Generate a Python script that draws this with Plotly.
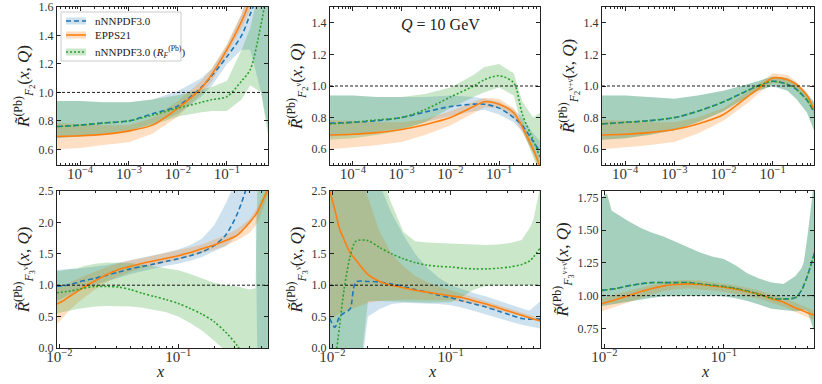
import plotly.graph_objects as go

# ---------------- data ----------------
X_TOP = [3.4e-5, 1e-4, 3e-4, 1e-3, 3e-3, 1e-2, 3e-2, 5e-2, 0.1, 0.2, 0.3, 0.5, 0.69]
X_BOT = [0.0095, 0.0105, 0.0115, 0.0126, 0.0141, 0.0158, 0.020, 0.0251, 0.0316, 0.0398,
         0.0501, 0.0631, 0.0794, 0.100, 0.126, 0.158, 0.200, 0.251, 0.316, 0.398,
         0.447, 0.468, 0.501, 0.575]

# Panel 1: F2
P1_NN = [0.76, 0.77, 0.785, 0.80, 0.85, 0.905, 1.035, 1.12, 1.25, 1.40, 1.55, 1.75, 1.9]
P1_NN_HI = [0.94, 0.94, 0.93, 0.93, 0.95, 1.01, 1.10, 1.17, 1.33, 1.55, 1.75, 2.0, 2.0]
P1_NN_LO = [0.68, 0.69, 0.71, 0.73, 0.78, 0.85, 0.97, 1.05, 1.20, 1.30, 1.30, 1.00, 0.75]
P1_EP = [0.69, 0.695, 0.705, 0.73, 0.77, 0.89, 1.03, 1.13, 1.30, 1.50, 1.65, 1.90, 2.0]
P1_EP_HI = [0.785, 0.78, 0.77, 0.77, 0.82, 0.94, 1.08, 1.17, 1.34, 1.55, 1.75, 2.0, 2.0]
P1_EP_LO = [0.60, 0.61, 0.63, 0.65, 0.71, 0.83, 0.99, 1.08, 1.26, 1.45, 1.58, 1.80, 1.9]
P1_RF = [0.76, 0.77, 0.785, 0.80, 0.84, 0.89, 0.93, 0.95, 0.97, 1.08, 1.16, 1.48, 1.75]
P1_RF_HI = [0.94, 0.94, 0.93, 0.93, 0.95, 0.98, 1.02, 1.04, 1.08, 1.30, 1.45, 1.80, 2.0]
P1_RF_LO = [0.68, 0.69, 0.70, 0.72, 0.77, 0.83, 0.86, 0.87, 0.87, 0.95, 1.05, 1.00, 0.70]

# Panel 2: F2 nu
P2_NN = [0.765, 0.77, 0.78, 0.80, 0.835, 0.87, 0.885, 0.885, 0.86, 0.80, 0.75, 0.65, 0.585]
P2_NN_HI = [0.94, 0.94, 0.93, 0.93, 0.93, 0.94, 0.93, 0.92, 0.90, 0.85, 0.80, 0.70, 0.65]
P2_NN_LO = [0.68, 0.69, 0.71, 0.73, 0.77, 0.81, 0.84, 0.85, 0.82, 0.77, 0.71, 0.58, 0.52]
P2_EP = [0.69, 0.695, 0.705, 0.725, 0.755, 0.80, 0.87, 0.90, 0.885, 0.83, 0.74, 0.60, 0.49]
P2_EP_HI = [0.785, 0.78, 0.77, 0.77, 0.79, 0.84, 0.90, 0.925, 0.92, 0.86, 0.77, 0.63, 0.52]
P2_EP_LO = [0.60, 0.61, 0.625, 0.645, 0.69, 0.75, 0.83, 0.865, 0.86, 0.80, 0.71, 0.57, 0.46]
P2_RF = [0.76, 0.77, 0.785, 0.80, 0.85, 0.93, 1.00, 1.04, 1.065, 1.02, 0.82, 0.66, 0.55]
P2_RF_HI = [0.94, 0.94, 0.93, 0.93, 0.95, 0.99, 1.07, 1.12, 1.14, 1.08, 0.90, 0.80, 0.83]
P2_RF_LO = [0.66, 0.67, 0.69, 0.72, 0.77, 0.86, 0.93, 0.96, 0.99, 0.94, 0.73, 0.55, 0.45]

# Panel 3: F2 nu+nubar
P3_NN = [0.76, 0.77, 0.78, 0.80, 0.84, 0.90, 0.97, 1.00, 1.03, 1.01, 0.98, 0.91, 0.835]
P3_NN_HI = [0.94, 0.94, 0.93, 0.92, 0.94, 0.97, 1.01, 1.03, 1.06, 1.05, 1.02, 0.95, 0.90]
P3_NN_LO = [0.66, 0.67, 0.69, 0.72, 0.77, 0.84, 0.93, 0.97, 1.00, 0.97, 0.92, 0.83, 0.72]
P3_EP = [0.69, 0.695, 0.705, 0.725, 0.76, 0.82, 0.93, 0.98, 1.05, 1.04, 1.01, 0.94, 0.85]
P3_EP_HI = [0.785, 0.78, 0.77, 0.77, 0.80, 0.86, 0.96, 1.01, 1.08, 1.07, 1.03, 0.96, 0.87]
P3_EP_LO = [0.60, 0.61, 0.625, 0.645, 0.70, 0.78, 0.89, 0.95, 1.02, 1.01, 0.98, 0.91, 0.83]
P3_RF = P3_NN
P3_RF_HI = P3_NN_HI
P3_RF_LO = P3_NN_LO

# Panel 4: F3 nu
P4_NN = [0.98, 0.99, 1.00, 1.02, 1.04, 1.07, 1.11, 1.16, 1.21, 1.26, 1.30, 1.34, 1.38, 1.42,
         1.47, 1.53, 1.63, 1.80, 2.15, 2.70, 3.0, 3.1, 3.3, 3.6]
P4_NN_HI = [1.24, 1.25, 1.25, 1.26, 1.26, 1.27, 1.29, 1.32, 1.36, 1.40, 1.44, 1.47, 1.52, 1.57,
            1.64, 1.74, 1.95, 2.30, 2.70, 3.2, 3.4, 3.5, 3.6, 3.8]
P4_NN_LO = [0.75, 0.79, 0.83, 0.87, 0.91, 0.95, 1.01, 1.07, 1.12, 1.18, 1.23, 1.27, 1.31, 1.34,
            1.39, 1.45, 1.54, 1.62, 1.80, 2.00, 2.15, -1.0, -1.0, -1.0]
P4_EP = [0.70, 0.74, 0.79, 0.84, 0.90, 0.96, 1.07, 1.17, 1.25, 1.30, 1.35, 1.39, 1.43, 1.47,
         1.52, 1.58, 1.64, 1.71, 1.80, 2.00, 2.12, 2.18, 2.30, 2.55]
P4_EP_HI = [0.95, 0.98, 1.02, 1.06, 1.10, 1.14, 1.22, 1.29, 1.35, 1.39, 1.43, 1.47, 1.51, 1.55,
            1.60, 1.65, 1.72, 1.80, 1.90, 2.05, 2.20, 2.25, 2.38, 2.62]
P4_EP_LO = [0.38, 0.46, 0.55, 0.63, 0.71, 0.79, 0.93, 1.05, 1.14, 1.21, 1.27, 1.32, 1.36, 1.40,
            1.45, 1.51, 1.57, 1.63, 1.72, 1.83, 1.95, 2.00, 2.15, 2.45]
P4_RF = [0.88, 0.89, 0.90, 0.91, 0.93, 0.95, 0.98, 0.98, 0.97, 0.93, 0.87, 0.82, 0.77, 0.71,
         0.63, 0.54, 0.42, 0.25, 0.03, -0.3, -0.45, -0.5, -0.6, -0.8]
P4_RF_HI = [1.22, 1.23, 1.24, 1.25, 1.27, 1.30, 1.34, 1.36, 1.36, 1.35, 1.33, 1.30, 1.27, 1.24,
            1.18, 1.11, 1.04, 1.00, 0.98, 0.93, 0.95, 3.0, 3.0, 3.0]
P4_RF_LO = [0.55, 0.57, 0.59, 0.60, 0.62, 0.64, 0.66, 0.67, 0.67, 0.66, 0.64, 0.61, 0.57, 0.50,
            0.40, 0.28, 0.12, -0.05, -0.3, -0.6, -0.8, -1.0, -1.0, -1.0]

# Panel 5: F3 nubar
P5_NN = [0.47, 0.33, 0.50, 0.56, 0.62, 1.05, 1.06, 1.05, 1.02, 0.98, 0.93, 0.89, 0.84, 0.80,
         0.75, 0.70, 0.65, 0.59, 0.53, 0.47, 0.46, 0.46, 0.46, 0.46]
P5_NN_HI = [3.0, 3.0, 3.0, 3.0, 3.0, 3.0, 3.0, 2.6, 2.15, 1.80, 1.50, 1.28, 1.12, 1.00,
            0.93, 0.87, 0.82, 0.76, 0.70, 0.63, 0.60, 0.60, 0.65, 0.75]
P5_NN_LO = [-1.0, -1.0, -1.0, -1.0, -1.0, -1.0, 0.50, 0.62, 0.70, 0.72, 0.72, 0.71, 0.70, 0.68,
            0.64, 0.59, 0.54, 0.48, 0.42, 0.37, 0.35, 0.34, 0.33, 0.31]
P5_EP = [2.50, 2.20, 1.90, 1.72, 1.52, 1.40, 1.17, 1.06, 1.00, 0.96, 0.92, 0.89, 0.86, 0.83,
         0.80, 0.75, 0.70, 0.64, 0.58, 0.52, 0.49, 0.48, 0.46, 0.43]
P5_EP_HI = [3.0, 3.0, 3.0, 3.0, 3.0, 3.0, 2.40, 1.85, 1.50, 1.30, 1.15, 1.05, 0.98, 0.92,
            0.86, 0.80, 0.74, 0.68, 0.62, 0.56, 0.53, 0.52, 0.50, 0.47]
P5_EP_LO = [0.45, 0.50, 0.55, 0.58, 0.62, 0.65, 0.72, 0.75, 0.76, 0.77, 0.77, 0.77, 0.76, 0.76,
            0.73, 0.70, 0.66, 0.61, 0.55, 0.50, 0.48, 0.47, 0.45, 0.42]
P5_RF = [-0.5, -0.2, 0.35, 0.95, 1.45, 1.70, 1.71, 1.60, 1.50, 1.42, 1.36, 1.32, 1.30, 1.29,
         1.27, 1.26, 1.26, 1.27, 1.29, 1.33, 1.37, 1.39, 1.45, 1.60]
P5_RF_HI = [3.0, 3.0, 3.0, 3.0, 3.0, 3.0, 3.0, 2.8, 2.3, 1.85, 1.70, 1.68, 1.67, 1.66,
            1.65, 1.64, 1.64, 1.65, 1.67, 1.72, 1.85, 1.92, 2.05, 2.60]
P5_RF_LO = [-1.0, -1.0, -1.0, -1.0, -1.0, -1.0, 0.75, 0.75, 0.75, 0.74, 0.73, 0.72, 0.72, 0.73,
            0.82, 0.93, 0.99, 1.00, 1.00, 1.00, 1.00, 1.00, 1.00, 1.00]

# Panel 6: F3 nu+nubar
P6_NN = [1.04, 1.045, 1.05, 1.055, 1.065, 1.075, 1.09, 1.10, 1.10, 1.10, 1.10, 1.09, 1.08, 1.07,
         1.055, 1.035, 1.01, 0.98, 0.975, 0.985, 1.04, 1.08, 1.15, 1.33]
P6_NN_HI = [1.75, 1.78, 1.65, 1.63, 1.60, 1.57, 1.52, 1.48, 1.45, 1.41, 1.37, 1.33, 1.30, 1.28,
            1.23, 1.17, 1.13, 1.10, 1.09, 1.15, 1.21, 1.26, 1.45, 1.90]
P6_NN_LO = [0.92, 0.925, 0.93, 0.935, 0.945, 0.955, 0.97, 0.985, 0.995, 1.00, 1.00, 1.00, 1.00, 0.995,
            0.98, 0.96, 0.93, 0.90, 0.89, 0.88, 0.885, 0.89, 0.88, 0.72]
P6_EP = [0.94, 0.95, 0.96, 0.97, 0.985, 1.00, 1.03, 1.055, 1.075, 1.085, 1.09, 1.085, 1.075, 1.065,
         1.05, 1.03, 1.01, 0.975, 0.95, 0.905, 0.89, 0.88, 0.87, 0.85]
P6_EP_HI = [0.98, 0.99, 1.00, 1.01, 1.02, 1.035, 1.06, 1.085, 1.105, 1.115, 1.12, 1.115, 1.105, 1.095,
            1.08, 1.06, 1.04, 1.01, 0.985, 0.945, 0.925, 0.915, 0.905, 0.885]
P6_EP_LO = [0.88, 0.895, 0.91, 0.92, 0.935, 0.95, 0.98, 1.01, 1.035, 1.05, 1.055, 1.05, 1.04, 1.03,
            1.015, 0.995, 0.975, 0.945, 0.915, 0.875, 0.855, 0.845, 0.835, 0.815]
P6_RF = P6_NN
P6_RF_HI = P6_NN_HI
P6_RF_LO = P6_NN_LO

LEGEND_NAMES = ["nNNPDF3.0", "EPPS21", "nNNPDF3.0 (<i>R</i><sub><i>F</i></sub><sup>(Pb)</sup>)"]

R = "<i>R\u0303</i><sup>(Pb)</sup>"
Y_TITLES = [
    R + "<sub><i>F</i><sub>2</sub></sub>(<i>x</i>, <i>Q</i>)",
    R + "<sub><i>F</i><sub>2</sub><sup>ν</sup></sub>(<i>x</i>, <i>Q</i>)",
    R + "<sub><i>F</i><sub>2</sub><sup>ν+ν\u0304</sup></sub>(<i>x</i>, <i>Q</i>)",
    R + "<sub><i>F</i><sub>3</sub><sup>ν</sup></sub>(<i>x</i>, <i>Q</i>)",
    R + "<sub><i>F</i><sub>3</sub><sup>ν\u0304</sup></sub>(<i>x</i>, <i>Q</i>)",
    R + "<sub><i>F</i><sub>3</sub><sup>ν+ν\u0304</sup></sub>(<i>x</i>, <i>Q</i>)",
]
Y_RANGES = [(0.49, 1.6), (0.5, 1.5), (0.5, 1.5), (0.0, 2.5), (0.0, 2.5), (0.6, 1.8)]
Y_DTICK = [0.2, 0.2, 0.2, 0.5, 0.5, 0.25]
Y_FMT = [".1f", ".1f", ".1f", ".1f", ".1f", ".2f"]
X_RANGES_LOG = [(-4.47, -0.16)] * 3 + [(-2.02, -0.245)] * 3

PANELS = [
    (X_TOP, P1_NN, P1_NN_LO, P1_NN_HI, P1_EP, P1_EP_LO, P1_EP_HI, P1_RF, P1_RF_LO, P1_RF_HI),
    (X_TOP, P2_NN, P2_NN_LO, P2_NN_HI, P2_EP, P2_EP_LO, P2_EP_HI, P2_RF, P2_RF_LO, P2_RF_HI),
    (X_TOP, P3_NN, P3_NN_LO, P3_NN_HI, P3_EP, P3_EP_LO, P3_EP_HI, P3_RF, P3_RF_LO, P3_RF_HI),
    (X_BOT, P4_NN, P4_NN_LO, P4_NN_HI, P4_EP, P4_EP_LO, P4_EP_HI, P4_RF, P4_RF_LO, P4_RF_HI),
    (X_BOT, P5_NN, P5_NN_LO, P5_NN_HI, P5_EP, P5_EP_LO, P5_EP_HI, P5_RF, P5_RF_LO, P5_RF_HI),
    (X_BOT, P6_NN, P6_NN_LO, P6_NN_HI, P6_EP, P6_EP_LO, P6_EP_HI, P6_RF, P6_RF_LO, P6_RF_HI),
]

# ---------------- styles ----------------
W, H = 822, 384
FONT = "Liberation Serif"
BLUE, ORANGE, GREEN = "#1f77b4", "#ff7f0e", "#2ca02c"
BLUE_F, ORANGE_F, GREEN_F = "rgba(31,119,180,0.22)", "rgba(255,127,14,0.25)", "rgba(44,160,44,0.25)"

X_PX = [(57, 268), (330, 540), (602, 814)]
Y_PX = [(7, 165), (191, 348)]


def px(x):
    return x / W


def py(y):
    return 1 - y / H


fig = go.Figure()


def band(ax, x, lo, hi, color):
    fig.add_trace(go.Scatter(
        x=list(x) + list(x)[::-1], y=list(hi) + list(lo)[::-1],
        xaxis="x" + ax, yaxis="y" + ax, mode="lines", line=dict(width=0),
        fill="toself", fillcolor=color, hoverinfo="skip", showlegend=False))


def line(ax, x, y, color, dash):
    fig.add_trace(go.Scatter(
        x=x, y=y, xaxis="x" + ax, yaxis="y" + ax, mode="lines",
        line=dict(color=color, width=1.6, dash=dash, shape="spline", smoothing=0.8),
        showlegend=False))


layout = dict(width=W, height=H, margin=dict(l=0, r=0, t=0, b=0, autoexpand=False),
              paper_bgcolor="white", plot_bgcolor="white",
              font=dict(family=FONT, size=12, color="#222"), showlegend=False)

shapes = []
annotations = []

for i, p in enumerate(PANELS):
    ax = "" if i == 0 else str(i + 1)
    x, nn, nnl, nnh, ep, epl, eph, rf, rfl, rfh = p
    band(ax, x, nnl, nnh, BLUE_F)
    band(ax, x, epl, eph, ORANGE_F)
    band(ax, x, rfl, rfh, GREEN_F)
    line(ax, x, nn, BLUE, "5px,3px")
    line(ax, x, ep, ORANGE, "solid")
    line(ax, x, rf, GREEN, "2px,2px")

    col, row = i % 3, i // 3
    x0, x1 = X_PX[col]
    y0, y1 = Y_PX[row]
    common = dict(showline=True, linecolor="#222", linewidth=1, mirror="allticks",
                  ticks="inside", ticklen=4, tickcolor="#222", showgrid=False, zeroline=False,
                  automargin=False, tickfont=dict(family=FONT, size=12, color="#333"))
    xa = dict(common, type="log", range=list(X_RANGES_LOG[i]), domain=[px(x0), px(x1)],
              anchor="y" + ax, dtick=1, exponentformat="power", ticklabelstandoff=-4,
              minor=dict(ticks="inside", ticklen=2, tickcolor="#222", showgrid=False))
    ya = dict(common, range=list(Y_RANGES[i]), domain=[py(y1), py(y0)], anchor="x" + ax,
              dtick=Y_DTICK[i], tick0=0, tickformat=Y_FMT[i],
              title=dict(text=Y_TITLES[i], font=dict(family=FONT, size=17, color="#222"), standoff=4))
    layout["xaxis" + ax] = xa
    layout["yaxis" + ax] = ya
    shapes.append(dict(type="line", xref="x" + ax + " domain", yref="y" + ax, x0=0, x1=1, y0=1, y1=1,
                       line=dict(color="black", width=0.9, dash="3px,2px")))
    if row == 1:
        annotations.append(dict(text="<i>x</i>", xref="paper", yref="paper",
                                x=px((x0 + x1) / 2 - 3), y=py(371), xanchor="center", yanchor="middle",
                                showarrow=False, font=dict(family=FONT, size=16, color="#222")))

annotations.append(dict(text="<i>Q</i> = 10 GeV", xref="paper", yref="paper",
                        x=px(440), y=py(25), xanchor="center", yanchor="middle", showarrow=False,
                        font=dict(family=FONT, size=16, color="#222")))

# legend (drawn in the top-left panel)
shapes.append(dict(type="rect", xref="paper", yref="paper", x0=px(61), x1=px(181), y0=py(61), y1=py(12),
                   line=dict(color="#cccccc", width=1), fillcolor="rgba(255,255,255,0.85)"))
leg_items = [(21, BLUE, BLUE_F, "5px,3px"), (35, ORANGE, ORANGE_F, "solid"), (52, GREEN, GREEN_F, "2px,2px")]
for (yy, c, fc, d), name in zip(leg_items, LEGEND_NAMES):
    shapes.append(dict(type="rect", xref="paper", yref="paper", x0=px(66), x1=px(86),
                       y0=py(yy + 3.5), y1=py(yy - 3.5), line=dict(width=0), fillcolor=fc))
    shapes.append(dict(type="line", xref="paper", yref="paper", x0=px(66), x1=px(86),
                       y0=py(yy), y1=py(yy), line=dict(color=c, width=1.6, dash=d)))
    annotations.append(dict(text=name, xref="paper", yref="paper", x=px(93), y=py(yy),
                            xanchor="left", yanchor="middle", showarrow=False,
                            font=dict(family=FONT, size=11, color="#222")))

layout["shapes"] = shapes
layout["annotations"] = annotations
fig.update_layout(**layout)
fig.write_html("out.html", config={"displayModeBar": False},
               post_script="document.body.style.margin='0';")
